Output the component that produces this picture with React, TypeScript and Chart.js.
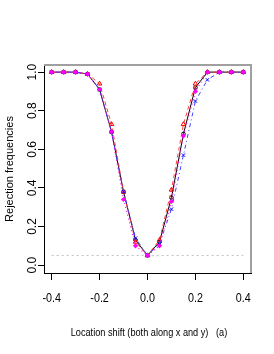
import React, { useEffect, useRef } from "react";
import { Chart, registerables } from "chart.js";

Chart.register(...registerables);

const shifts = [-0.4, -0.35, -0.3, -0.25, -0.2, -0.15, -0.1, -0.05, 0, 0.05, 0.1, 0.15, 0.2, 0.25, 0.3, 0.35, 0.4];
const seriesBlack = [1, 1, 1, 0.99, 0.91, 0.69, 0.38, 0.13, 0.05, 0.12, 0.35, 0.68, 0.92, 1, 1, 1, 1];
const seriesRed = [1, 1, 1, 0.99, 0.94, 0.73, 0.38, 0.12, 0.05, 0.13, 0.39, 0.73, 0.94, 1, 1, 1, 1];
const seriesBlue = [1, 1, 1, 0.99, 0.91, 0.69, 0.38, 0.14, 0.05, 0.11, 0.29, 0.57, 0.85, 0.96, 1, 1, 1];
const seriesMagenta = [1, 1, 1, 0.99, 0.91, 0.69, 0.34, 0.1, 0.05, 0.1, 0.33, 0.67, 0.9, 1, 1, 1, 1];
const nominalLevel = 0.05;
const nominalRange = [-0.4, 0.4];

const xTicks = [-0.4, -0.2, 0, 0.2, 0.4];
const xTickLabels = ["-0.4", "-0.2", "0.0", "0.2", "0.4"];
const yTicks = [0, 0.2, 0.4, 0.6, 0.8, 1.0];
const yTickLabels = ["0.0", "0.2", "0.4", "0.6", "0.8", "1.0"];

const xTitle = "Location shift (both along x and y)   (a)";
const yTitle = "Rejection frequencies";

const toPts = (ys: number[]) => shifts.map((x, i) => ({ x, y: ys[i] }));

const FAMILY = "'Liberation Sans', Arial, sans-serif";

export default function App() {
  const ref = useRef<HTMLCanvasElement | null>(null);

  useEffect(() => {
    if (!ref.current) return;

    const boxPlugin = {
      id: "boxPlugin",
      afterDraw(chart: any) {
        const { ctx, chartArea } = chart;
        ctx.save();
        ctx.strokeStyle = "#a0a0a0";
        ctx.lineWidth = 2;
        ctx.beginPath();
        ctx.moveTo(chartArea.left, chartArea.top);
        ctx.lineTo(chartArea.right, chartArea.top);
        ctx.lineTo(chartArea.right, chartArea.bottom);
        ctx.stroke();
        ctx.restore();
      },
    };

    const labelPlugin = {
      id: "labelPlugin",
      afterDraw(chart: any) {
        const { ctx, chartArea } = chart;
        const ys = chart.scales.y;
        const xs = chart.scales.x;
        ctx.save();
        ctx.fillStyle = "#000";
        ctx.textAlign = "center";
        ctx.font = "12px " + FAMILY;
        ctx.textBaseline = "middle";
        ys.ticks.forEach((t: any, i: number) => {
          const py = ys.getPixelForValue(t.value);
          ctx.save();
          ctx.translate(33, py);
          ctx.rotate(-Math.PI / 2);
          ctx.fillText(yTickLabels[i], 0, 0);
          ctx.restore();
        });
        ctx.textBaseline = "alphabetic";
        ctx.font = "12.5px " + FAMILY;
        xs.ticks.forEach((t: any, i: number) => {
          const px = xs.getPixelForValue(t.value);
          ctx.save();
          ctx.translate(px, 302);
          ctx.scale(0.86, 1);
          ctx.fillText(xTickLabels[i], 0, 0);
          ctx.restore();
        });
        ctx.font = "11.2px " + FAMILY;
        ctx.save();
        ctx.translate((chartArea.left + chartArea.right) / 2 + 1.5, 335.5);
        ctx.scale(0.82, 1);
        ctx.fillText(xTitle, 0, 0);
        ctx.restore();
        ctx.restore();
      },
    };

    const chart = new Chart(ref.current, {
      type: "line",
      data: {
        datasets: [
          {
            label: "black",
            data: toPts(seriesBlack),
            borderColor: "#000",
            backgroundColor: "rgba(0,0,0,0)",
            borderWidth: 1,
            pointStyle: "circle",
            pointRadius: 1.8,
            pointBorderWidth: 1,
            pointBorderColor: "#000",
            pointBackgroundColor: "rgba(0,0,0,0)",
            order: 4,
          },
          {
            label: "red",
            data: toPts(seriesRed),
            borderColor: "#ff4040",
            backgroundColor: "rgba(0,0,0,0)",
            borderWidth: 1,
            borderDash: [4, 3],
            pointStyle: "triangle",
            pointRadius: 2.6,
            pointBorderWidth: 1,
            pointBorderColor: "#ff0000",
            pointBackgroundColor: "rgba(0,0,0,0)",
            order: 3,
          },
          {
            label: "blue",
            data: toPts(seriesBlue),
            borderColor: "#4040ff",
            backgroundColor: "rgba(0,0,0,0)",
            borderWidth: 1,
            borderDash: [1, 3, 4, 3],
            pointStyle: "crossRot",
            pointRadius: 2.4,
            pointBorderWidth: 1,
            pointBorderColor: "#0000ff",
            pointBackgroundColor: "rgba(0,0,0,0)",
            order: 2,
          },
          {
            label: "magenta",
            data: toPts(seriesMagenta),
            borderColor: "#ff00ff",
            backgroundColor: "#ff00ff",
            borderWidth: 1.2,
            borderDash: [1, 3],
            pointStyle: "rectRot",
            pointRadius: 2.6,
            pointBorderWidth: 0,
            pointBackgroundColor: "#ff00ff",
            order: 1,
          },
          {
            label: "nominal",
            data: nominalRange.map((x) => ({ x, y: nominalLevel })),
            borderColor: "#c0c0c0",
            borderWidth: 1,
            borderDash: [2, 3],
            pointRadius: 0,
            order: 5,
          },
        ],
      },
      options: {
        animation: false,
        responsive: false,
        maintainAspectRatio: false,
        layout: { padding: { left: 0, top: 65, right: 23, bottom: 0 } },
        plugins: {
          legend: { display: false },
          tooltip: { enabled: false },
        },
        scales: {
          x: {
            type: "linear",
            min: -0.432,
            max: 0.432,
            afterFit: (s: any) => {
              s.height = 81;
            },
            afterBuildTicks: (s: any) => {
              s.ticks = xTicks.map((v) => ({ value: v }));
            },
            grid: {
              display: true,
              drawOnChartArea: false,
              drawTicks: true,
              tickLength: 7,
              color: "#000",
              tickColor: "#000",
            },
            border: { display: true, color: "#000", width: 1 },
            ticks: { display: false },
            title: { display: false, text: xTitle },
          },
          y: {
            type: "linear",
            min: -0.041,
            max: 1.037,
            afterFit: (s: any) => {
              s.width = 44;
            },
            afterBuildTicks: (s: any) => {
              s.ticks = yTicks.map((v) => ({ value: v }));
            },
            grid: {
              display: true,
              drawOnChartArea: false,
              drawTicks: true,
              tickLength: 6,
              color: "#000",
              tickColor: "#000",
            },
            border: { display: true, color: "#000", width: 1 },
            ticks: { display: false },
            title: {
              display: true,
              text: yTitle,
              color: "#000",
              font: { family: FAMILY, size: 11 },
              padding: { top: 3, bottom: 0 },
            },
          },
        },
      },
      plugins: [boxPlugin, labelPlugin],
    });

    return () => chart.destroy();
  }, []);

  return (
    <div style={{ position: "fixed", left: 0, top: 0, width: 274, height: 354, background: "#fff" }}>
      <canvas ref={ref} width={274} height={354} style={{ width: 274, height: 354, display: "block" }} />
    </div>
  );
}
